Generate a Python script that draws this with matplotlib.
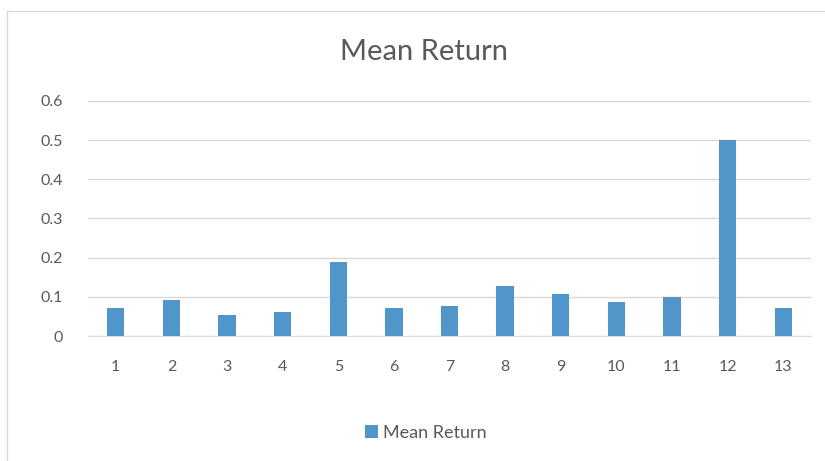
import matplotlib.pyplot as plt
from matplotlib.patches import Rectangle

categories = ['1', '2', '3', '4', '5', '6', '7', '8', '9', '10', '11', '12', '13']
mean_return = [0.072, 0.091, 0.053, 0.061, 0.189, 0.072, 0.076, 0.128, 0.106, 0.088, 0.099, 0.500, 0.072]
y_ticks = [0, 0.1, 0.2, 0.3, 0.4, 0.5, 0.6]
y_tick_labels = ['0', '0.1', '0.2', '0.3', '0.4', '0.5', '0.6']

plt.rcParams['font.family'] = ['Lato', 'DejaVu Sans']
text_color = '#595959'
grid_color = '#D9D9D9'
bar_color = '#5096CB'

fig = plt.figure(figsize=(8.25, 4.61), dpi=100)
fig.patches.append(Rectangle((7 / 825, -0.05), 1.1, 1 - 11 / 461 + 0.05,
                             transform=fig.transFigure, fill=False,
                             edgecolor='#D9D9D9', linewidth=1))

ax = fig.add_axes([88 / 825, 1 - 336 / 461, (811 - 88) / 825, (336 - 101) / 461])
x = range(len(categories))
ax.bar(x, mean_return, width=0.31, color=bar_color, label='Mean Return', zorder=3)

ax.set_xlim(-0.5, len(categories) - 0.5)
ax.set_ylim(0, 0.6)
ax.set_yticks(y_ticks)
ax.set_yticklabels(y_tick_labels)
ax.set_xticks(list(x))
ax.set_xticklabels(categories)
ax.tick_params(axis='both', length=0, colors=text_color, labelsize=11.5)
ax.tick_params(axis='x', pad=17)
ax.tick_params(axis='y', pad=18)

ax.grid(axis='y', color=grid_color, linewidth=1, zorder=0)
for side in ['top', 'right', 'left']:
    ax.spines[side].set_visible(False)
ax.spines['bottom'].set_color(grid_color)

fig.text(424 / 825, 1 - 52 / 461, 'Mean Return', ha='center', va='center',
         fontsize=21, color=text_color)

leg = fig.legend(loc='center', bbox_to_anchor=(426 / 825, 1 - 433 / 461), frameon=False,
                 fontsize=13, handlelength=0.7, handleheight=0.7, handletextpad=0.3)
for t in leg.get_texts():
    t.set_color(text_color)

fig.savefig('out.png', dpi=100)
